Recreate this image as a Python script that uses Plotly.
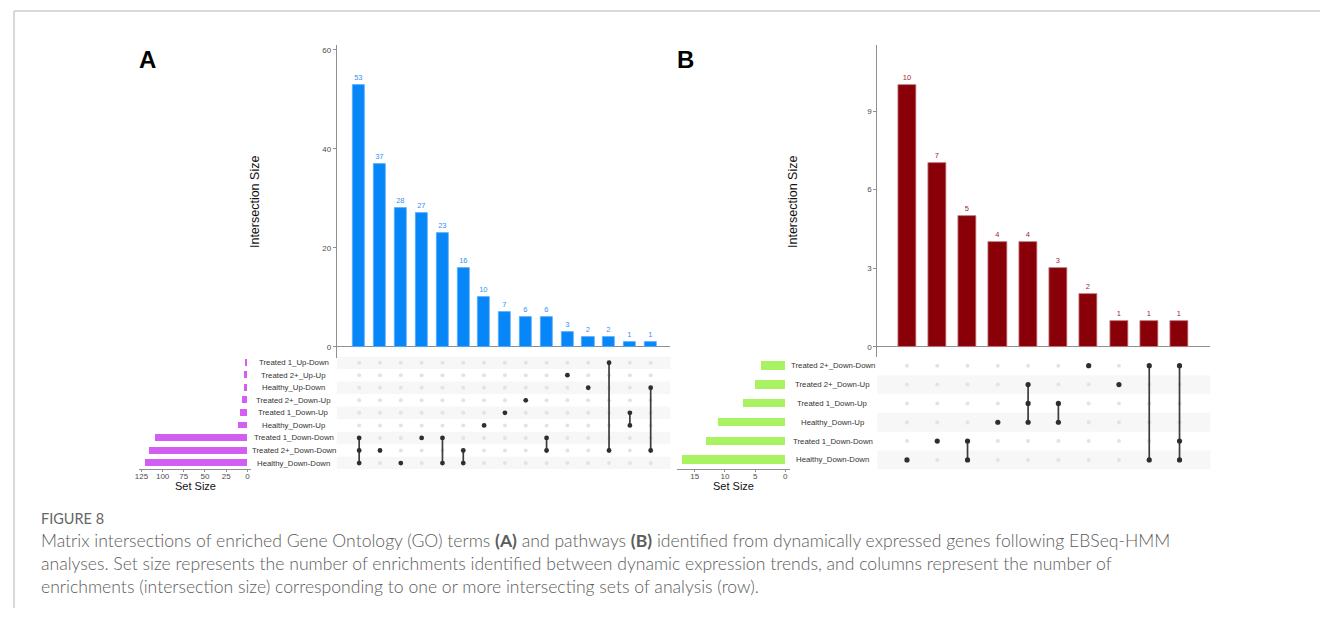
import plotly.graph_objects as go

# ---------------- data ----------------
# Panel A: GO terms
a_sets = ["Treated 1_Up-Down", "Treated 2+_Up-Up", "Healthy_Up-Down",
          "Treated 2+_Down-Up", "Treated 1_Down-Up", "Healthy_Down-Up",
          "Treated 1_Down-Down", "Treated 2+_Down-Down", "Healthy_Down-Down"]
a_set_sizes = [2, 3, 3, 6, 8, 11, 109, 115, 120]
a_counts = [53, 37, 28, 27, 23, 16, 10, 7, 6, 6, 3, 2, 2, 1, 1]
# member rows (index into a_sets) for each intersection column
a_members = [[6, 7, 8], [7], [8], [6], [6, 8], [7, 8], [5], [4], [3],
             [6, 7], [1], [2], [0, 7], [4, 5], [2, 7]]
a_size_ticks = [0, 25, 50, 75, 100, 125]
a_count_ticks = [0, 20, 40, 60]

# Panel B: pathways
b_sets = ["Treated 2+_Down-Down", "Treated 2+_Down-Up", "Treated 1_Down-Up",
          "Healthy_Down-Up", "Treated 1_Down-Down", "Healthy_Down-Down"]
b_set_sizes = [4, 5, 7, 11, 13, 17]
b_counts = [10, 7, 5, 4, 4, 3, 2, 1, 1, 1]
b_members = [[5], [4], [4, 5], [3], [1, 2, 3], [2, 3], [0], [1], [0, 5],
             [0, 4, 5]]
b_size_ticks = [0, 5, 10, 15]
b_count_ticks = [0, 3, 6, 9]

caption_head = "FIGURE 8"
caption_lines = [
    "Matrix intersections of enriched Gene Ontology (GO) terms <b>(A)</b> and pathways "
    "<b>(B)</b> identified from dynamically expressed genes following EBSeq-HMM",
    "analyses. Set size represents the number of enrichments identified between dynamic "
    "expression trends, and columns represent the number of",
    "enrichments (intersection size) corresponding to one or more intersecting sets of "
    "analysis (row).",
]

# ---------------- layout helpers ----------------
W, H = 1320, 618


def px(x):
    return x / W


def py(y):
    return 1 - y / H


FONT = "Liberation Sans, Arial, sans-serif"
AXIS_GREY = "#8f8f8f"
TICK_GREY = "#4d4d4d"

fig = go.Figure()
shapes = []
annotations = []


def upset_panel(n, sets, set_sizes, counts, members, size_ticks, count_ticks,
                geom, bar_color, bar_edge, label_color, set_color,
                set_bar_width, col_bar_width, dot_in, dot_out, label_x, label_size):
    """Draw one UpSet panel using axes n, n+1, n+2."""
    ib, im, iss = n, n + 1, n + 2
    xb, yb = f"x{ib}", f"y{ib}"
    xm, ym = f"x{im}", f"y{im}"
    xs, ys = f"x{iss}", f"y{iss}"
    ncol = len(counts)
    nrow = len(sets)
    cols = list(range(ncol))

    # intersection size bars
    fig.add_trace(go.Bar(
        x=cols, y=counts, xaxis=xb, yaxis=yb, width=col_bar_width,
        marker=dict(color=bar_color, line=dict(color=bar_edge, width=0.8)),
        text=[str(c) for c in counts], textposition="outside",
        textfont=dict(size=7.5, color=label_color, family=FONT),
        cliponaxis=False, showlegend=False, hoverinfo="x+y"))

    # matrix: background dots
    gx, gy = [], []
    for c in cols:
        for r in range(nrow):
            if r not in members[c]:
                gx.append(c)
                gy.append(r)
    fig.add_trace(go.Scatter(
        x=gx, y=gy, xaxis=xm, yaxis=ym, mode="markers",
        marker=dict(size=dot_in, color="#e3e3e3"), showlegend=False,
        hoverinfo="skip"))

    # matrix: connecting lines
    lx, ly = [], []
    for c in cols:
        if len(members[c]) > 1:
            lx += [c, c, None]
            ly += [min(members[c]), max(members[c]), None]
    fig.add_trace(go.Scatter(
        x=lx, y=ly, xaxis=xm, yaxis=ym, mode="lines",
        line=dict(color="#3d3d3d", width=1.7), showlegend=False,
        hoverinfo="skip"))

    # matrix: active dots
    ax_, ay_ = [], []
    for c in cols:
        for r in members[c]:
            ax_.append(c)
            ay_.append(r)
    fig.add_trace(go.Scatter(
        x=ax_, y=ay_, xaxis=xm, yaxis=ym, mode="markers",
        marker=dict(size=dot_out, color="#2e2e2e"), showlegend=False,
        hoverinfo="skip"))

    # set size bars
    fig.add_trace(go.Bar(
        x=set_sizes, y=list(range(nrow)), orientation="h", xaxis=xs, yaxis=ys,
        width=set_bar_width, marker=dict(color=set_color, line=dict(width=0)),
        showlegend=False, hoverinfo="x"))

    # alternating row bands, shaded from the bottom row up
    for r in range(nrow):
        if (nrow - 1 - r) % 2 == 0:
            shapes.append(dict(type="rect", xref=f"{xm} domain", yref=ym,
                               x0=0, x1=1, y0=r - 0.5, y1=r + 0.5,
                               fillcolor="#f7f7f7", line=dict(width=0),
                               layer="below"))

    # set names between the set-size bars and the matrix
    for r, name in enumerate(sets):
        annotations.append(dict(
            text=name, x=label_x, xref="paper", y=r, yref=ym,
            xanchor="center", yanchor="middle", showarrow=False,
            font=dict(size=label_size, color="#333333", family=FONT)))

    g = geom
    rowrange = [nrow - 0.5, -0.5]
    layout = {
        f"xaxis{ib}": dict(domain=[px(g["bx0"]), px(g["bx1"])],
                           range=g["xrange"], anchor=yb, visible=False),
        f"yaxis{ib}": dict(domain=[py(g["by0"]), py(g["by1"])],
                           range=g["yrange"], anchor=xb,
                           showline=True, linecolor=AXIS_GREY, linewidth=1,
                           ticks="outside", ticklen=3, tickcolor=AXIS_GREY,
                           tickvals=count_ticks,
                           tickfont=dict(size=8, color=TICK_GREY, family=FONT),
                           showgrid=False, zeroline=True,
                           zerolinecolor=AXIS_GREY, zerolinewidth=1),
        f"xaxis{im}": dict(domain=[px(g["bx0"]), px(g["bx1"])],
                           range=g["xrange"], anchor=ym, visible=False),
        f"yaxis{im}": dict(domain=[py(g["my0"]), py(g["my1"])],
                           range=rowrange, anchor=xm, visible=False),
        f"xaxis{iss}": dict(domain=[px(g["sx0"]), px(g["sx1"])],
                            range=g["srange"], anchor=ys,
                            showline=True, linecolor=AXIS_GREY, linewidth=1,
                            ticks="outside", ticklen=2, tickcolor=AXIS_GREY,
                            ticklabelstandoff=-3,
                            tickvals=size_ticks,
                            tickfont=dict(size=8, color=TICK_GREY, family=FONT),
                            showgrid=False, zeroline=False),
        f"yaxis{iss}": dict(domain=[py(g["my0"]), py(g["my1"])],
                            range=rowrange, anchor=xs, visible=False),
    }
    annotations.append(dict(
        text="Intersection Size", x=px(g["title_x"]), y=py(202), xref="paper",
        yref="paper", textangle=-90, showarrow=False, xanchor="center",
        yanchor="middle", font=dict(size=12.5, color="#111111", family=FONT)))
    annotations.append(dict(
        text="Set Size", x=px(g["setsize_x"]), y=py(486), xref="paper",
        yref="paper", showarrow=False, xanchor="center", yanchor="middle",
        font=dict(size=11, color="#111111", family=FONT)))
    return layout


geom_a = dict(bx0=333, bx1=668, by0=358, by1=45, xrange=[-1.077, 14.95],
              yrange=[-2.28, 61.0], my0=469.3, my1=356.4,
              sx0=135, sx1=246.7, srange=[127.3, -4.0],
              title_x=251, setsize_x=191)
geom_b = dict(bx0=875.6, bx1=1210, by0=357, by1=45, xrange=[-0.98, 10.02],
              yrange=[-0.393, 11.52], my0=469.4, my1=356.3,
              sx0=675, sx1=788.3, srange=[17.87, -0.83],
              title_x=791, setsize_x=731)

lay = {}
lay.update(upset_panel(1, a_sets, a_set_sizes, a_counts, a_members,
                       a_size_ticks, a_count_ticks, geom_a,
                       bar_color="#0786f8", bar_edge="#5aaefc",
                       label_color="#2f93f5", set_color="#d35ff2",
                       set_bar_width=0.55, col_bar_width=0.58,
                       dot_in=4, dot_out=4.8, label_x=px(290), label_size=7.8))
lay.update(upset_panel(4, b_sets, b_set_sizes, b_counts, b_members,
                       b_size_ticks, b_count_ticks, geom_b,
                       bar_color="#8a0009", bar_edge="#c4878c",
                       label_color="#9c2a30", set_color="#a9f262",
                       set_bar_width=0.45, col_bar_width=0.6,
                       dot_in=4, dot_out=5.2, label_x=px(831), label_size=7.8))

# panel letters
for letter, x in (("A", 143), ("B", 683)):
    annotations.append(dict(
        text=f"<b>{letter}</b>", x=px(x), y=py(59), xref="paper", yref="paper",
        showarrow=False, xanchor="center", yanchor="middle",
        font=dict(size=24, color="#000000", family=FONT)))

# caption
CAP_FONT = "Lato, Open Sans, sans-serif"
annotations.append(dict(
    text=caption_head, x=px(34), y=py(518), xref="paper", yref="paper",
    showarrow=False, xanchor="left", yanchor="middle",
    font=dict(size=14.5, color="#666666", family=CAP_FONT, weight=400)))
for i, line in enumerate(caption_lines):
    annotations.append(dict(
        text=line, x=px(34), y=py(540 + 23 * i), xref="paper", yref="paper",
        showarrow=False, xanchor="left", yanchor="middle",
        font=dict(size=17.6, color="#5c5c5c", family=CAP_FONT, weight=300)))

# frame lines along top and left edge
shapes.append(dict(type="line", xref="paper", yref="paper",
                   x0=px(9), x1=1, y0=py(11), y1=py(11),
                   line=dict(color="#cccccc", width=1.5)))
shapes.append(dict(type="line", xref="paper", yref="paper",
                   x0=px(9), x1=px(9), y0=py(11), y1=py(608),
                   line=dict(color="#cccccc", width=1.5)))

fig.update_layout(
    width=W, height=H, margin=dict(l=0, r=0, t=0, b=0),
    paper_bgcolor="white", plot_bgcolor="rgba(0,0,0,0)",
    font=dict(family=FONT), showlegend=False, bargap=0,
    shapes=shapes, annotations=annotations, **lay)

fig.write_html("out.html")
